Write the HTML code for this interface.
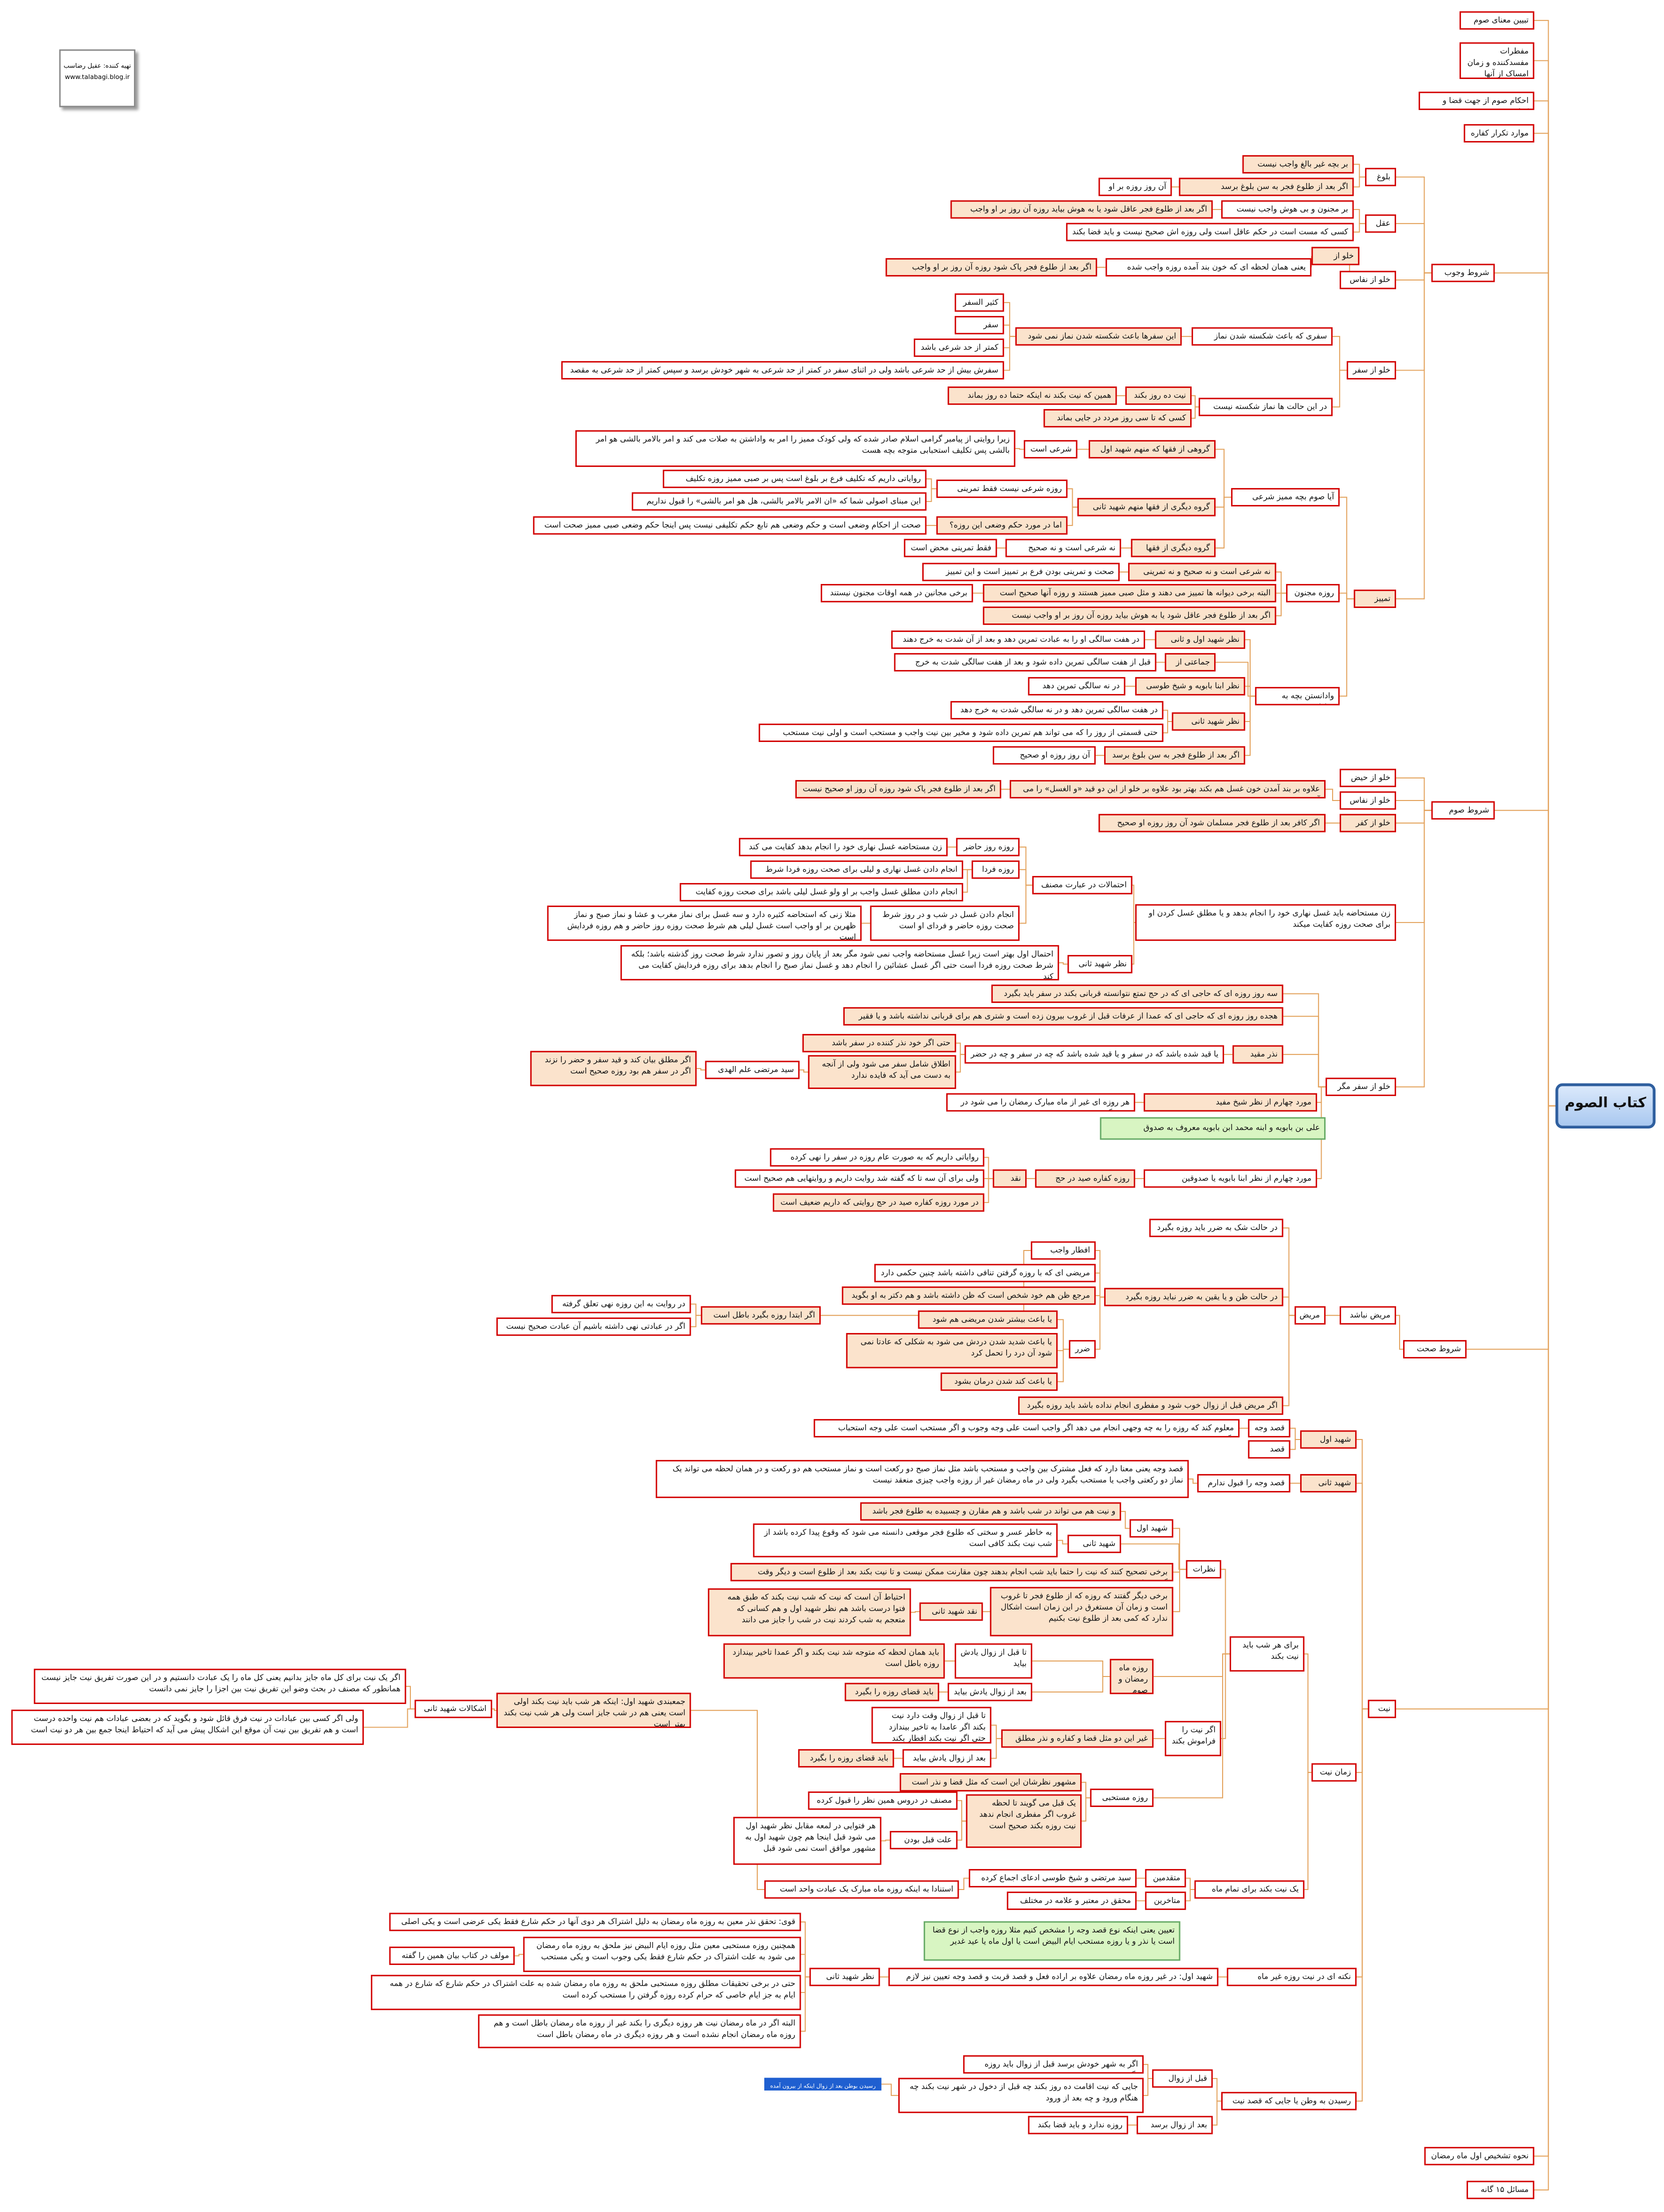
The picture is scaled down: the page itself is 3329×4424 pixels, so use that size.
<!DOCTYPE html>
<html><head><meta charset="utf-8">
<style>
html,body{margin:0;padding:0;background:#fff;}
#wrap{position:absolute;left:0;top:0;width:1180px;height:1568px;transform:scale(2.8212);transform-origin:0 0;}
.b{position:absolute;border:1px solid #d20000;background:#fff;font-size:5.6px;line-height:8px;padding:1.5px 3px;direction:rtl;text-align:right;box-sizing:border-box;font-family:"DejaVu Sans","Liberation Sans",sans-serif;color:#111;overflow:hidden;height:13px;white-space:normal;z-index:2}
.o{background:#fbe3cc;}
.g{background:#d8f5c2;border-color:#6a6;}
.r{background:linear-gradient(#dbe9fb,#a9c8f0);border:2px solid #2f5f9f;border-radius:5px;font-size:10px;font-weight:bold;text-align:center;line-height:26px;white-space:nowrap;padding:0;}
.bl{background:#1f5fd0;color:#fff;border-color:#1f5fd0;font-size:4px;line-height:6px;}
svg{position:absolute;left:0;top:0;z-index:1}
#logo{position:absolute;left:42px;top:35px;width:54px;height:41px;border:1px solid #888;box-shadow:2px 2px 2px #999;font-size:4.5px;text-align:center;font-family:"DejaVu Sans",sans-serif;line-height:8px;padding-top:8px;box-sizing:border-box;background:#fff}
</style></head><body>
<div id="wrap">
<svg id="sv" width="1180" height="1568"></svg>
<div id="logo"><div style="direction:rtl">تهیه کننده: عقیل رضاسب</div><div>www.talabagi.blog.ir</div></div>

<div class="b r" id="R" style="left:1103px;top:768px;width:71px;height:32px">کتاب الصوم</div>

<div class="b" id="a1" style="left:1035px;top:8px;width:53px">تبیین معنای صوم</div>
<div class="b" id="a2" style="left:1035px;top:30px;width:53px;height:26px">مفطرات مفسدکننده و زمان امساک از آنها</div>
<div class="b" id="a3" style="left:1006px;top:65px;width:82px">احکام صوم از جهت قضا و کفاره</div>
<div class="b" id="a4" style="left:1038px;top:88px;width:50px">موارد تکرار کفاره</div>
<div class="b" id="a5" style="left:1015px;top:187px;width:45px">شروط وجوب</div>
<div class="b" id="a6" style="left:1015px;top:568px;width:45px">شروط صوم</div>
<div class="b" id="a7" style="left:995px;top:950px;width:45px">شروط صحت</div>
<div class="b" id="a8" style="left:970px;top:1205px;width:20px">نیت</div>
<div class="b" id="a9" style="left:1010px;top:1522px;width:78px">نحوه تشخیص اول ماه رمضان</div>
<div class="b" id="a10" style="left:1040px;top:1546px;width:48px">مسائل ۱۵ گانه</div>

<div class="b" id="b1" style="left:968px;top:119px;width:22px">بلوغ</div>
<div class="b" id="b2" style="left:968px;top:152px;width:22px">عقل</div>
<div class="b o" id="b3" style="left:930px;top:175px;width:34px">خلو از حیض</div>
<div class="b" id="b4" style="left:950px;top:192px;width:40px">خلو از نفاس</div>
<div class="b" id="b5" style="left:955px;top:256px;width:35px">خلو از سفر</div>
<div class="b o" id="b6" style="left:960px;top:418px;width:30px">تمییز</div>

<div class="b o" id="c1" style="left:881px;top:110px;width:79px">بر بچه غیر بالغ واجب نیست</div>
<div class="b o" id="c2" style="left:836px;top:126px;width:124px">اگر بعد از طلوع فجر به سن بلوغ برسد</div>
<div class="b" id="c3" style="left:779px;top:126px;width:52px">آن روز روزه بر او واجب نیست</div>
<div class="b" id="c4" style="left:866px;top:142px;width:94px">بر مجنون و بی هوش واجب نیست</div>
<div class="b o" id="c5" style="left:674px;top:142px;width:186px">اگر بعد از طلوع فجر عاقل شود یا به هوش بیاید روزه آن روز بر او واجب نیست</div>
<div class="b" id="c6" style="left:756px;top:158px;width:204px">کسی که مست است در حکم عاقل است ولی روزه اش صحیح نیست و باید قضا بکند</div>
<div class="b" id="c7" style="left:784px;top:183px;width:146px">یعنی همان لحظه ای که خون بند آمده روزه واجب شده است</div>
<div class="b o" id="c8" style="left:628px;top:183px;width:150px">اگر بعد از طلوع فجر پاک شود روزه آن روز بر او واجب نیست</div>

<div class="b" id="d1" style="left:845px;top:232px;width:100px">سفری که باعث شکسته شدن نماز بشود</div>
<div class="b" id="d2" style="left:850px;top:282px;width:95px">در این حالت ها نماز شکسته نیست</div>
<div class="b o" id="d3" style="left:720px;top:232px;width:118px">این سفرها باعث شکسته شدن نماز نمی شود</div>
<div class="b" id="d4" style="left:677px;top:208px;width:35px">کثیر السفر</div>
<div class="b" id="d5" style="left:677px;top:224px;width:35px">سفر معصیت</div>
<div class="b" id="d6" style="left:648px;top:240px;width:64px">کمتر از حد شرعی باشد</div>
<div class="b" id="d7" style="left:398px;top:256px;width:314px">سفرش بیش از حد شرعی باشد ولی در اثنای سفر در کمتر از حد شرعی به شهر خودش برسد و سپس کمتر از حد شرعی به مقصد برسد</div>
<div class="b o" id="d8" style="left:798px;top:274px;width:47px">نیت ده روز بکند</div>
<div class="b o" id="d9" style="left:672px;top:274px;width:120px">همین که نیت بکند نه اینکه حتما ده روز بماند</div>
<div class="b o" id="d10" style="left:740px;top:290px;width:105px">کسی که تا سی روز مردد در جایی بماند</div>

<div class="b" id="e1" style="left:873px;top:346px;width:77px">آیا صوم بچه ممیز شرعی است؟</div>
<div class="b" id="e2" style="left:912px;top:414px;width:38px">روزه مجنون</div>
<div class="b" id="e3" style="left:890px;top:487px;width:60px">وادانستن بچه به عبادات</div>
<div class="b o" id="f1" style="left:772px;top:312px;width:90px">گروهی از فقها که منهم شهید اول</div>
<div class="b" id="f2" style="left:726px;top:312px;width:38px">شرعی است</div>
<div class="b" id="f3" style="left:408px;top:305px;width:312px;height:26px">زیرا روایتی از پیامبر گرامی اسلام صادر شده که ولی کودک ممیز را امر به واداشتن به صلات می کند و امر بالامر بالشی هو امر بالشی پس تکلیف استحبابی متوجه بچه هست</div>
<div class="b o" id="f4" style="left:764px;top:353px;width:98px">گروه دیگری از فقها منهم شهید ثانی</div>
<div class="b" id="f5" style="left:664px;top:340px;width:93px">روزه شرعی نیست فقط تمرینی است</div>
<div class="b" id="f6" style="left:470px;top:333px;width:187px">روایاتی داریم که تکلیف فرع بر بلوغ است پس بر صبی ممیز روزه تکلیف نیست</div>
<div class="b" id="f7" style="left:448px;top:349px;width:209px">این مبنای اصولی شما که «ان الامر بالامر بالشی، هل هو امر بالشی» را قبول نداریم</div>
<div class="b o" id="f8" style="left:664px;top:366px;width:93px">اما در مورد حکم وضعی این روزه؟</div>
<div class="b" id="f9" style="left:378px;top:366px;width:279px">صحت از احکام وضعی است و حکم وضعی هم تابع حکم تکلیفی نیست پس اینجا حکم وضعی صبی ممیز صحت است</div>
<div class="b o" id="f10" style="left:802px;top:382px;width:60px">گروه دیگری از فقها</div>
<div class="b" id="f11" style="left:713px;top:382px;width:82px">نه شرعی است و نه صحیح است</div>
<div class="b" id="f12" style="left:641px;top:382px;width:66px">فقط تمرینی محض است</div>
<div class="b o" id="g1" style="left:800px;top:399px;width:105px">نه شرعی است و نه صحیح و نه تمرینی</div>
<div class="b" id="g2" style="left:654px;top:399px;width:140px">صحت و تمرینی بودن فرع بر تمییز است و این تمییز ندارد</div>
<div class="b o" id="g3" style="left:697px;top:414px;width:208px">البته برخی دیوانه ها تمییز می دهند و مثل صبی ممیز هستند و روزه آنها صحیح است</div>
<div class="b" id="g4" style="left:582px;top:414px;width:108px">برخی مجانین در همه اوقات مجنون نیستند</div>
<div class="b o" id="g5" style="left:697px;top:430px;width:208px">اگر بعد از طلوع فجر عاقل شود یا به هوش بیاید روزه آن روز بر او واجب نیست</div>
<div class="b o" id="h1" style="left:819px;top:447px;width:64px">نظر شهید اول و ثانی</div>
<div class="b" id="h2" style="left:632px;top:447px;width:180px">در هفت سالگی او را به عبادت تمرین دهد و بعد از آن شدت به خرج دهند</div>
<div class="b o" id="h3" style="left:826px;top:463px;width:36px">جماعتی از فقها</div>
<div class="b" id="h4" style="left:634px;top:463px;width:186px">قبل از هفت سالگی تمرین داده شود و بعد از هفت سالگی شدت به خرج داده شود</div>
<div class="b o" id="h5" style="left:805px;top:480px;width:78px">نظر ابنا بابویه و شیخ طوسی</div>
<div class="b" id="h6" style="left:729px;top:480px;width:69px">در نه سالگی تمرین دهد</div>
<div class="b o" id="h7" style="left:831px;top:505px;width:52px">نظر شهید ثانی</div>
<div class="b" id="h8" style="left:674px;top:497px;width:151px">در هفت سالگی تمرین دهد و در نه سالگی شدت به خرج دهد</div>
<div class="b" id="h9" style="left:538px;top:513px;width:287px">حتی قسمتی از روز را که می تواند هم تمرین داده شود و مخیر بین نیت واجب و مستحب است و اولی نیت مستحب است</div>
<div class="b o" id="h10" style="left:783px;top:529px;width:100px">اگر بعد از طلوع فجر به سن بلوغ برسد</div>
<div class="b" id="h11" style="left:704px;top:529px;width:73px">آن روز روزه او صحیح نیست</div>

<div class="b" id="i1" style="left:950px;top:545px;width:40px">خلو از حیض</div>
<div class="b" id="i2" style="left:950px;top:561px;width:40px">خلو از نفاس</div>
<div class="b o" id="i3" style="left:950px;top:577px;width:40px">خلو از کفر</div>
<div class="b o" id="i4" style="left:716px;top:553px;width:224px">علاوه بر بند آمدن خون غسل هم بکند بهتر بود علاوه بر خلو از این دو قید «و الغسل» را می آورد</div>
<div class="b o" id="i5" style="left:564px;top:553px;width:146px">اگر بعد از طلوع فجر پاک شود روزه آن روز او صحیح نیست</div>
<div class="b o" id="i6" style="left:779px;top:577px;width:161px">اگر کافر بعد از طلوع فجر مسلمان شود آن روز روزه او صحیح نیست</div>
<div class="b" id="i7" style="left:805px;top:641px;width:185px;height:26px">زن مستحاضه باید غسل نهاری خود را انجام بدهد و یا مطلق غسل کردن او برای صحت روزه کفایت میکند</div>
<div class="b" id="j1" style="left:732px;top:621px;width:71px">احتمالات در عبارت مصنف</div>
<div class="b" id="j2" style="left:757px;top:677px;width:46px">نظر شهید ثانی</div>
<div class="b" id="j3" style="left:678px;top:594px;width:45px">روزه روز حاضر</div>
<div class="b" id="j4" style="left:524px;top:594px;width:148px">زن مستحاضه غسل نهاری خود را انجام بدهد کفایت می کند</div>
<div class="b" id="j5" style="left:689px;top:610px;width:34px">روزه فردا</div>
<div class="b" id="j6" style="left:532px;top:610px;width:151px">انجام دادن غسل نهاری و لیلی برای صحت روزه فردا شرط است</div>
<div class="b" id="j7" style="left:482px;top:626px;width:201px">انجام دادن مطلق غسل واجب بر او ولو غسل لیلی باشد برای صحت روزه کفایت میکند</div>
<div class="b" id="j8" style="left:617px;top:642px;width:106px;height:25px">انجام دادن غسل در شب و در روز شرط صحت روزه حاضر و فردای او است</div>
<div class="b" id="j9" style="left:388px;top:642px;width:223px;height:25px">مثلا زنی که استحاضه کثیره دارد و سه غسل برای نماز مغرب و عشا و نماز صبح و نماز ظهرین بر او واجب است غسل لیلی هم شرط صحت روزه روز حاضر و هم روزه فردایش است</div>
<div class="b" id="j10" style="left:440px;top:670px;width:311px;height:25px">احتمال اول بهتر است زیرا غسل مستحاضه واجب نمی شود مگر بعد از پایان روز و تصور ندارد شرط صحت روز گذشته باشد؛ بلکه شرط صحت روزه فردا است حتی اگر غسل عشائین را انجام دهد و غسل نماز صبح را انجام بدهد برای روزه فردایش کفایت می کند</div>

<div class="b" id="k0" style="left:940px;top:764px;width:50px">خلو از سفر مگر در سه جا</div>
<div class="b o" id="k1" style="left:703px;top:698px;width:207px">سه روز روزه ای که حاجی ای که در حج تمتع نتوانسته قربانی بکند در سفر باید بگیرد</div>
<div class="b o" id="k2" style="left:598px;top:714px;width:312px">هجده روز روزه ای که حاجی ای که عمدا از عرفات قبل از غروب بیرون زده است و شتری هم برای قربانی نداشته باشد و یا فقیر باشد</div>
<div class="b o" id="k3" style="left:874px;top:741px;width:36px">نذر مقید</div>
<div class="b" id="k4" style="left:684px;top:741px;width:184px">یا قید شده باشد که در سفر و یا قید شده باشد که چه در سفر و چه در حضر</div>
<div class="b o" id="k5" style="left:569px;top:733px;width:109px">حتی اگر خود نذر کننده در سفر باشد</div>
<div class="b o" id="k6" style="left:573px;top:748px;width:105px;height:24px">اطلاق شامل سفر می شود ولی از آنجه به دست می آید که فایده ندارد</div>
<div class="b" id="k7" style="left:500px;top:752px;width:67px">سید مرتضی علم الهدی</div>
<div class="b o" id="k8" style="left:376px;top:745px;width:118px;height:25px">اگر مطلق بیان کند و قید سفر و حضر را نزند اگر در سفر هم بود روزه صحیح است</div>
<div class="b o" id="k9" style="left:811px;top:775px;width:123px">مورد چهارم از نظر شیخ مفید</div>
<div class="b" id="k10" style="left:671px;top:775px;width:134px">هر روزه ای غیر از ماه مبارک رمضان را می شود در سفر گرفت</div>
<div class="b g" id="k11" style="left:780px;top:792px;width:160px;height:16px;line-height:11px">علی بن بابویه و ابنه محمد ابن بابویه معروف به صدوق</div>
<div class="b" id="k12" style="left:811px;top:829px;width:123px">مورد چهارم از نظر ابنا بابویه یا صدوقین</div>
<div class="b o" id="k13" style="left:734px;top:829px;width:71px">روزه کفاره صید در حج</div>
<div class="b o" id="k14" style="left:704px;top:829px;width:24px">نقد</div>
<div class="b" id="k15" style="left:546px;top:814px;width:152px">روایاتی داریم که به صورت عام روزه در سفر را نهی کرده است</div>
<div class="b" id="k16" style="left:521px;top:829px;width:177px">ولی برای آن سه تا که گفته شد روایت داریم و روایتهایی هم صحیح است</div>
<div class="b o" id="k17" style="left:548px;top:846px;width:150px">در مورد روزه کفاره صید در حج روایتی که داریم ضعیف است</div>

<div class="b" id="l0" style="left:950px;top:926px;width:40px">مریض نباشد</div>
<div class="b" id="l1" style="left:918px;top:926px;width:22px">مریض</div>
<div class="b" id="l2" style="left:815px;top:864px;width:95px">در حالت شک به ضرر باید روزه بگیرد</div>
<div class="b o" id="l3" style="left:783px;top:913px;width:127px">در حالت ظن و یا یقین به ضرر نباید روزه بگیرد</div>
<div class="b" id="l4" style="left:731px;top:880px;width:46px">افطار واجب است</div>
<div class="b" id="l5" style="left:620px;top:896px;width:157px">مریضی ای که با روزه گرفتن تنافی داشته باشد چنین حکمی دارد</div>
<div class="b o" id="l6" style="left:597px;top:912px;width:180px">مرجع ظن هم خود شخص است که ظن داشته باشد و هم دکتر به او بگوید</div>
<div class="b" id="l7" style="left:758px;top:950px;width:19px">ضرر</div>
<div class="b o" id="l8" style="left:651px;top:929px;width:99px">یا باعث بیشتر شدن مریضی هم شود</div>
<div class="b o" id="l9" style="left:600px;top:945px;width:150px;height:25px">یا باعث شدید شدن دردش می شود به شکلی که عادتا نمی شود آن درد را تحمل کرد</div>
<div class="b o" id="l10" style="left:667px;top:973px;width:83px">یا باعث کند شدن درمان بشود</div>
<div class="b o" id="l11" style="left:497px;top:926px;width:85px">اگر ابتدا روزه بگیرد باطل است</div>
<div class="b" id="l12" style="left:391px;top:918px;width:99px">در روایت به این روزه نهی تعلق گرفته</div>
<div class="b" id="l13" style="left:352px;top:934px;width:138px">اگر در عبادتی نهی داشته باشیم آن عبادت صحیح نیست</div>
<div class="b o" id="l14" style="left:722px;top:990px;width:188px">اگر مریض قبل از زوال خوب شود و مفطری انجام نداده باشد باید روزه بگیرد</div>

<div class="b o" id="m1" style="left:922px;top:1014px;width:40px">شهید اول</div>
<div class="b" id="m2" style="left:885px;top:1006px;width:30px">قصد وجه</div>
<div class="b" id="m3" style="left:885px;top:1021px;width:30px">قصد قربت</div>
<div class="b" id="m4" style="left:577px;top:1006px;width:302px">معلوم کند که روزه را به چه وجهی انجام می دهد اگر واجب است علی وجه وجوب و اگر مستحب است علی وجه استحباب بگیرد</div>
<div class="b o" id="m5" style="left:922px;top:1045px;width:40px">شهید ثانی</div>
<div class="b" id="m6" style="left:849px;top:1045px;width:66px">قصد وجه را قبول ندارم</div>
<div class="b" id="m7" style="left:465px;top:1035px;width:378px;height:27px">قصد وجه یعنی معنا دارد که فعل مشترک بین واجب و مستحب باشد مثل نماز صبح دو رکعت است و نماز مستحب هم دو رکعت و در همان لحظه می تواند یک نماز دو رکعتی واجب یا مستحب بگیرد ولی در ماه رمضان غیر از روزه واجب چیزی منعقد نیست</div>
<div class="b" id="m8" style="left:930px;top:1250px;width:32px">زمان نیت</div>
<div class="b" id="m9" style="left:872px;top:1160px;width:53px;height:25px">برای هر شب باید نیت بکند</div>
<div class="b" id="m10" style="left:841px;top:1106px;width:25px">نظرات</div>
<div class="b" id="m11" style="left:801px;top:1077px;width:31px">شهید اول</div>
<div class="b o" id="m12" style="left:610px;top:1065px;width:185px">و نیت هم می تواند در شب باشد و هم مقارن و چسبیده به طلوع فجر باشد</div>
<div class="b" id="m13" style="left:757px;top:1088px;width:38px">شهید ثانی</div>
<div class="b" id="m14" style="left:534px;top:1080px;width:216px;height:24px">به خاطر عسر و سختی که طلوع فجر موقعی دانسته می شود که وقوع پیدا کرده باشد از شب نیت بکند کافی است</div>
<div class="b o" id="m15" style="left:518px;top:1108px;width:314px">برخی تصحیح کنند که نیت را حتما باید شب انجام بدهند چون مقارنت ممکن نیست و تا نیت بکند بعد از طلوع است و دیگر وقت گذشته است</div>
<div class="b o" id="m16" style="left:702px;top:1125px;width:130px;height:35px">برخی دیگر گفتند که روزه که از طلوع فجر تا غروب است و زمان آن مستغرق در این زمان است اشکال ندارد که کمی بعد از طلوع نیت بکنیم</div>
<div class="b o" id="m17" style="left:652px;top:1136px;width:45px">نقد شهید ثانی</div>
<div class="b o" id="m18" style="left:502px;top:1126px;width:144px;height:34px">احتیاط آن است که نیت که شب نیت بکند که طبق همه فتوا درست باشد هم نظر شهید اول و هم کسانی که متعجم به شب کردند نیت در شب را جایز می دانند</div>
<div class="b o" id="m19" style="left:787px;top:1176px;width:31px;height:25px">روزه ماه رمضان و صوم معین</div>
<div class="b" id="m20" style="left:677px;top:1165px;width:55px;height:25px">تا قبل از زوال یادش بیاید</div>
<div class="b o" id="m21" style="left:513px;top:1165px;width:157px;height:25px">باید همان لحظه که متوجه شد نیت بکند و اگر عمدا تاخیر بیندازد روزه باطل است</div>
<div class="b" id="m22" style="left:672px;top:1193px;width:60px">بعد از زوال یادش بیاید</div>
<div class="b o" id="m23" style="left:599px;top:1193px;width:67px">باید قضای روزه را بگیرد</div>
<div class="b" id="m24" style="left:826px;top:1220px;width:40px;height:25px">اگر نیت را فراموش بکند</div>
<div class="b o" id="m25" style="left:710px;top:1226px;width:108px">غیر این دو مثل قضا و کفاره و نذر مطلق</div>
<div class="b" id="m26" style="left:618px;top:1210px;width:85px;height:26px">تا قبل از زوال وقت دارد نیت بکند اگر عامدا به تاخیر بیندازد حتی اگر نیت بکند افطار بکند ولی قضا ندارد</div>
<div class="b" id="m27" style="left:640px;top:1240px;width:63px">بعد از زوال یادش بیاید</div>
<div class="b o" id="m28" style="left:566px;top:1240px;width:68px">باید قضای روزه را بگیرد</div>
<div class="b" id="m29" style="left:773px;top:1268px;width:45px">روزه مستحبی</div>
<div class="b o" id="m30" style="left:638px;top:1257px;width:129px">مشهور نظرشان این است که مثل قضا و نذر است</div>
<div class="b o" id="m31" style="left:685px;top:1272px;width:82px;height:38px">یک قبل می گویند تا لحظه غروب اگر مفطری انجام ندهد نیت روزه بکند صحیح است</div>
<div class="b" id="m32" style="left:573px;top:1270px;width:106px">مصنف در دروس همین نظر را قبول کرده</div>
<div class="b" id="m33" style="left:631px;top:1298px;width:48px">علت قبل بودن</div>
<div class="b" id="m34" style="left:520px;top:1288px;width:105px;height:34px">هر فتوایی در لمعه مقابل نظر شهید اول می شود قبل اینجا هم چون شهید اول به مشهور موافق است نمی شود قبل</div>
<div class="b" id="m35" style="left:847px;top:1333px;width:78px">یک نیت بکند برای تمام ماه</div>
<div class="b" id="m36" style="left:812px;top:1325px;width:29px">متقدمین</div>
<div class="b" id="m37" style="left:812px;top:1341px;width:29px">متاخرین</div>
<div class="b" id="m38" style="left:687px;top:1325px;width:119px">سید مرتضی و شیخ طوسی ادعای اجماع کرده اند</div>
<div class="b" id="m39" style="left:714px;top:1341px;width:92px">محقق در معتبر و علامه در مختلف</div>
<div class="b" id="m40" style="left:542px;top:1333px;width:138px">استنادا به اینکه روزه ماه مبارک یک عبادت واحد است</div>
<div class="b" id="m41" style="left:870px;top:1395px;width:92px">نکته ای در نیت روزه غیر ماه رمضان</div>
<div class="b g" id="m42" style="left:655px;top:1362px;width:182px;height:28px">تعیین یعنی اینکه نوع قصد وجه را مشخص کنیم مثلا روزه واجب از نوع قضا است یا نذر و یا روزه مستحب ایام البیض است یا اول ماه یا عید غدیر</div>
<div class="b" id="m43" style="left:630px;top:1395px;width:234px">شهید اول: در غیر روزه ماه رمضان علاوه بر اراده فعل و قصد قربت و قصد وجه تعیین نیز لازم است</div>
<div class="b" id="m44" style="left:574px;top:1395px;width:50px">نظر شهید ثانی</div>
<div class="b" id="m45" style="left:276px;top:1356px;width:292px">قوی: تحقق نذر معین به روزه ماه رمضان به دلیل اشتراک هر دوی آنها در حکم شارع فقط یکی عرضی است و یکی اصلی</div>
<div class="b" id="m46" style="left:371px;top:1373px;width:197px;height:25px">همچنین روزه مستحبی معین مثل روزه ایام البیض نیز ملحق به روزه ماه رمضان می شود به علت اشتراک در حکم شارع فقط یکی وجوب است و یکی مستحب</div>
<div class="b" id="m47" style="left:276px;top:1380px;width:89px">مولف در کتاب بیان همین را گفته</div>
<div class="b" id="m48" style="left:263px;top:1400px;width:305px;height:25px">حتی در برخی تحقیقات مطلق روزه مستحبی ملحق به روزه ماه رمضان شده به علت اشتراک در حکم شارع که شارع در همه ایام به جز ایام خاصی که حرام کرده روزه گرفتن را مستحب کرده است</div>
<div class="b" id="m49" style="left:339px;top:1428px;width:229px;height:24px">البته اگر در ماه رمضان نیت هر روزه دیگری را بکند غیر از روزه ماه رمضان باطل است و هم روزه ماه رمضان انجام نشده است و هر روزه دیگری در ماه رمضان باطل است</div>
<div class="b" id="m50" style="left:294px;top:1205px;width:55px">اشکالات شهید ثانی به این نظر</div>
<div class="b o" id="m51" style="left:352px;top:1200px;width:138px;height:25px">جمعبندی شهید اول: اینکه هر شب باید نیت بکند اولی است یعنی هم در شب جایز است ولی هر شب نیت بکند بهتر است</div>
<div class="b" id="m52" style="left:24px;top:1183px;width:264px;height:25px">اگر یک نیت برای کل ماه جایز بدانیم یعنی کل ماه را یک عبادت دانستیم و در این صورت تفریق نیت جایز نیست همانطور که مصنف در بحث وضو این تفریق نیت بین اجزا را جایز نمی دانست</div>
<div class="b" id="m53" style="left:8px;top:1212px;width:250px;height:25px">ولی اگر کسی بین عبادات در نیت فرق قائل شود و بگوید که در بعضی عبادات هم نیت واحده درست است و هم تفریق بین نیت آن موقع این اشکال پیش می آید که احتیاط اینجا جمع بین هر دو نیت است</div>
<div class="b" id="n1" style="left:866px;top:1483px;width:96px">رسیدن به وطن یا جایی که قصد نیت ده روز بکند</div>
<div class="b" id="n2" style="left:817px;top:1467px;width:43px">قبل از زوال</div>
<div class="b" id="n3" style="left:806px;top:1500px;width:54px">بعد از زوال برسد</div>
<div class="b" id="n4" style="left:683px;top:1457px;width:128px">اگر به شهر خودش برسد قبل از زوال باید روزه بگیرد</div>
<div class="b" id="n5" style="left:637px;top:1473px;width:174px;height:25px">جایی که نیت اقامت ده روز بکند چه قبل از دخول در شهر نیت بکند چه هنگام ورود و چه بعد از ورود</div>
<div class="b" id="n6" style="left:729px;top:1500px;width:71px">روزه ندارد و باید قضا بکند</div>
<div class="b bl" id="n7" style="left:542px;top:1473px;width:83px;height:9px">رسیدن بوطن بعد از زوال اینکه از بیرون آمده است</div>
</div>
<script>
var E=[["a1","R"],["a2","R"],["a3","R"],["a4","R"],["a5","R"],["a6","R"],["a7","R"],["a8","R"],["a9","R"],["a10","R"],
["b1","a5"],["b2","a5"],["b4","a5"],["b5","a5"],["b6","a5"],["b3","b4"],
["c1","b1"],["c2","b1"],["c3","c2"],["c4","b2"],["c5","c4"],["c6","b2"],["c7","b3"],["c8","c7"],
["d1","b5"],["d2","b5"],["d3","d1"],["d4","d3"],["d5","d3"],["d6","d3"],["d7","d3"],["d8","d2"],["d9","d8"],["d10","d2"],
["e1","b6"],["e2","b6"],["e3","b6"],["f1","e1"],["f2","f1"],["f3","f2"],["f4","e1"],["f5","f4"],["f6","f5"],["f7","f5"],["f8","f4"],["f9","f8"],["f10","e1"],["f11","f10"],["f12","f11"],
["g1","e2"],["g2","g1"],["g3","e2"],["g4","g3"],["g5","e2"],
["h1","e3"],["h2","h1"],["h3","e3"],["h4","h3"],["h5","e3"],["h6","h5"],["h7","e3"],["h8","h7"],["h9","h7"],["h10","e3"],["h11","h10"],
["i1","a6"],["i2","a6"],["i3","a6"],["i4","i2"],["i5","i4"],["i6","i3"],["i7","a6"],["j1","i7"],["j2","i7"],["j3","j1"],["j4","j3"],["j5","j1"],["j6","j5"],["j7","j5"],["j8","j1"],["j9","j8"],["j10","j2"],
["k0","a6"],["k1","k0"],["k2","k0"],["k3","k0"],["k4","k3"],["k5","k4"],["k6","k4"],["k7","k6"],["k8","k7"],["k9","k0"],["k10","k9"],["k12","k0"],["k13","k12"],["k14","k13"],["k15","k14"],["k16","k14"],["k17","k14"],
["l0","a7"],["l1","l0"],["l2","l1"],["l3","l1"],["l4","l3"],["l5","l3"],["l6","l3"],["l7","l3"],["l8","l7"],["l9","l7"],["l10","l7"],["l11","l4"],["l12","l11"],["l13","l11"],["l14","l1"],
["m1","a8"],["m5","a8"],["m8","a8"],["m41","a8"],["n1","a8"],["m2","m1"],["m3","m1"],["m4","m2"],["m6","m5"],["m7","m6"],
["m9","m8"],["m35","m8"],["m10","m9"],["m19","m9"],["m24","m9"],["m29","m9"],["m11","m10"],["m13","m10"],["m15","m10"],["m16","m10"],["m12","m11"],["m14","m13"],["m17","m16"],["m18","m17"],
["m20","m19"],["m22","m19"],["m21","m20"],["m23","m22"],["m25","m24"],["m26","m25"],["m27","m25"],["m28","m27"],["m30","m29"],["m31","m29"],["m32","m31"],["m33","m31"],["m34","m33"],
["m36","m35"],["m37","m35"],["m38","m36"],["m39","m37"],["m40","m38"],["m51","m40"],["m50","m51"],["m52","m50"],["m53","m50"],
["m43","m41"],["m44","m43"],["m45","m44"],["m46","m44"],["m48","m44"],["m49","m44"],["m47","m46"],
["n2","n1"],["n3","n1"],["n4","n2"],["n5","n2"],["n6","n3"],["n7","n5"]];
var sv=document.getElementById("sv"),s="";
function g(id){var e=document.getElementById(id);return {l:e.offsetLeft,t:e.offsetTop,w:e.offsetWidth,h:e.offsetHeight};}
E.forEach(function(p){var c=g(p[0]),q=g(p[1]);var x1=c.l+c.w,y1=c.t+c.h/2,x2=q.l,y2=q.t+q.h/2;var xm=x2-(x2-x1>10?5:(x2-x1)/2);
s+='<path d="M'+x1+','+y1+' L'+xm+','+y1+' L'+xm+','+y2+' L'+x2+','+y2+'" fill="none" stroke="#e3a25c" stroke-width="0.7"/>';});
sv.innerHTML=s;
</script>
</body></html>
